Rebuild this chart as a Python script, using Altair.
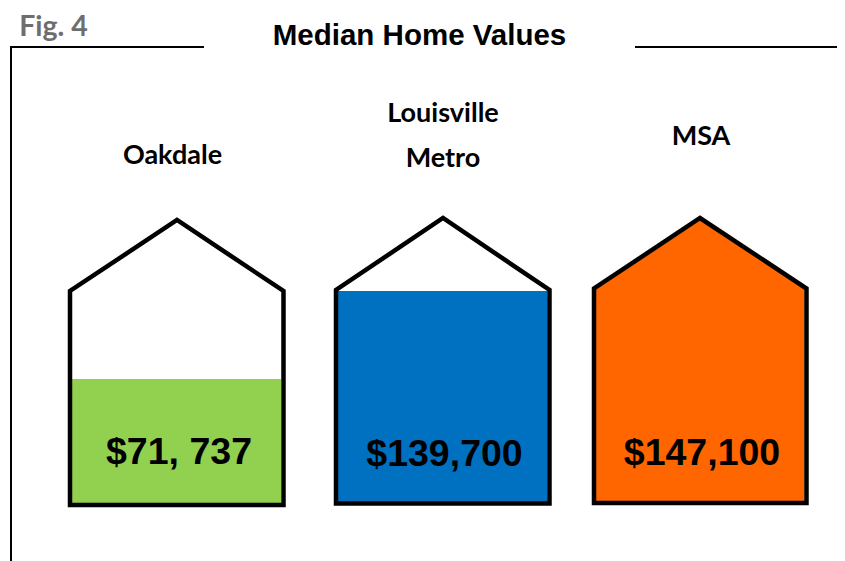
import altair as alt
import pandas as pd

# House categories and readings
houses = ["Oakdale", "Louisville Metro", "MSA"]
value_labels = ["$71, 737", "$139,700", "$147,100"]
fill_colors = ["#92D050", "#0070C0", "#FF6600"]

wall_left = [70, 336, 594]
wall_right = [283.5, 549.5, 806.5]
apex_x = [177, 443, 700]
apex_y = [220, 218, 218]
eave_y = [291, 290, 288.5]
floor_y = [505, 503.5, 503]

fill_left = [72, 338, 596]
fill_right = [281, 547.5, 804.5]
fill_top = [379, 291, 288.5]

label_lines = [("Oakdale", 172.5, 164), ("Louisville", 443, 122), ("Metro", 443, 167), ("MSA", 701, 144.5)]
value_pos = [(179, 464), (444.5, 466), (702, 465)]

frame_x = [11, 11, 204]
frame_y = [561, 47, 47]
frame2_x = [635, 845]
frame2_y = [47, 47]

title_text = "Median Home Values"
fig_text = "Fig. 4"

X = alt.Scale(domain=[8, 837], range=[0, 829], nice=False, zero=False)
Y = alt.Scale(domain=[561, 8], range=[553, 0], nice=False, zero=False)
ex = alt.X("x:Q", scale=X, axis=None)
ey = alt.Y("y:Q", scale=Y, axis=None)

outline_rows, fill_rows = [], []
for i, h in enumerate(houses):
    pts = [(wall_left[i], floor_y[i]), (wall_left[i], eave_y[i]), (apex_x[i], apex_y[i]),
           (wall_right[i], eave_y[i]), (wall_right[i], floor_y[i]), (wall_left[i], floor_y[i])]
    for k, (px, py) in enumerate(pts):
        outline_rows.append({"house": h, "k": k, "x": px, "y": py})
    if h == "MSA":
        top = [(fill_left[i], fill_top[i]), (apex_x[i], apex_y[i]), (fill_right[i], fill_top[i])]
    else:
        top = [(fill_left[i], fill_top[i]), (fill_right[i], fill_top[i])]
    for px, py in top:
        fill_rows.append({"house": h, "x": px, "y": py, "y2": floor_y[i]})

fills = alt.Chart(pd.DataFrame(fill_rows)).mark_area(opacity=1, interpolate="linear").encode(
    x=ex, y=ey, y2="y2:Q",
    color=alt.Color("house:N", scale=alt.Scale(domain=houses, range=fill_colors), legend=None),
)
outlines = alt.Chart(pd.DataFrame(outline_rows)).mark_line(
    color="black", strokeWidth=4.5, strokeJoin="miter", strokeCap="square", interpolate="linear"
).encode(x=ex, y=ey, detail="house:N", order="k:Q")

frame_rows = [{"seg": "a", "k": k, "x": a, "y": b} for k, (a, b) in enumerate(zip(frame_x, frame_y))]
frame_rows += [{"seg": "b", "k": k, "x": a, "y": b} for k, (a, b) in enumerate(zip(frame2_x, frame2_y))]
frame = alt.Chart(pd.DataFrame(frame_rows)).mark_line(
    color="black", strokeWidth=2, strokeJoin="miter", clip=True
).encode(x=alt.X("x:Q", scale=X, axis=None), y=ey, detail="seg:N", order="k:Q")

def text_layer(rows, **kw):
    return alt.Chart(pd.DataFrame(rows)).mark_text(baseline="alphabetic", align="center", **kw).encode(
        x=ex, y=ey, text="t:N"
    )

labels = text_layer([{"t": t, "x": a, "y": b} for t, a, b in label_lines],
                    font="Lato", fontWeight="bold", fontSize=27, color="#000000")
values = text_layer([{"t": t, "x": p[0], "y": p[1]} for t, p in zip(value_labels, value_pos)],
                    font="Liberation Sans", fontWeight="bold", fontSize=37.5, color="#000000")
title = text_layer([{"t": title_text, "x": 419.5, "y": 45}],
                   font="Liberation Sans", fontWeight="bold", fontSize=29.5, color="#000000")
fig = text_layer([{"t": fig_text, "x": 53.5, "y": 36}],
                 font="Lato", fontWeight="bold", fontSize=28.5, color="#6E6E6E")

chart = (fills + outlines + frame + labels + values + title + fig).properties(
    width=829, height=553, padding=0, autosize=alt.AutoSizeParams(type="none")
).configure_view(stroke=None)

chart.save("out.html", embed_options={"renderer": "svg", "actions": False})
